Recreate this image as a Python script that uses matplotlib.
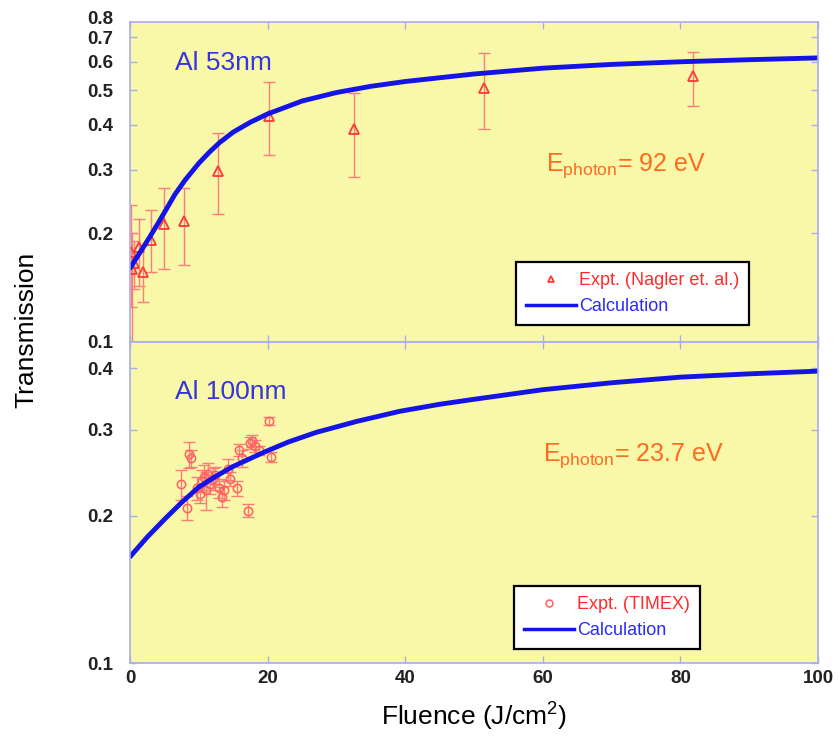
import matplotlib.pyplot as plt
from matplotlib.lines import Line2D
from matplotlib.ticker import FixedLocator, NullLocator

plt.rcParams['font.family'] = ['Liberation Sans', 'DejaVu Sans']
plt.rcParams['mathtext.fontset'] = 'custom'
plt.rcParams['mathtext.rm'] = 'Liberation Sans'

# Al 53nm, E = 92 eV
calc53_x = [0, 1.3, 2.7, 4, 5.2, 6.5, 8, 10, 11.5, 13, 15, 17.5, 20, 25, 30, 35, 40, 50, 60, 70, 80, 90, 100]
calc53_y = [0.160, 0.175, 0.193, 0.212, 0.232, 0.256, 0.281, 0.313, 0.3355, 0.357, 0.382, 0.407, 0.429,
            0.466, 0.492, 0.512, 0.528, 0.554, 0.575, 0.589, 0.599, 0.607, 0.614]
nagler_x = [0.1, 0.3, 0.6, 1.3, 1.9, 3.0, 4.9, 7.9, 12.8, 20.2, 32.6, 51.5, 81.8]
nagler_y = [0.178, 0.159, 0.165, 0.183, 0.156, 0.192, 0.212, 0.216, 0.298, 0.423, 0.389, 0.507, 0.547]
nagler_lo = [0.125, 0.095, 0.140, 0.143, 0.129, 0.156, 0.159, 0.163, 0.226, 0.329, 0.286, 0.389, 0.451]
nagler_hi = [0.239, 0.200, 0.190, 0.219, 0.186, 0.232, 0.268, 0.268, 0.379, 0.527, 0.490, 0.634, 0.638]

# Al 100nm, E = 23.7 eV
calc100_x = [0, 2.5, 5.2, 7.5, 10, 12.5, 14.9, 17.5, 19.8, 23, 27, 33, 39.2, 45, 50, 60, 70, 80, 90, 100]
calc100_y = [0.165, 0.181, 0.198, 0.213, 0.229, 0.241, 0.252, 0.262, 0.271, 0.283, 0.296, 0.312, 0.327,
             0.338, 0.346, 0.362, 0.374, 0.384, 0.390, 0.395]
timex_x = [7.4, 8.3, 8.6, 8.8, 9.8, 10.2, 10.5, 10.8, 11.0, 11.3, 11.7, 12.0, 12.4, 13.0,
           13.4, 13.7, 14.2, 14.5, 15.6, 15.9, 16.3, 17.2, 17.4, 17.8, 18.2, 18.8, 20.2, 20.5]
timex_y = [0.232, 0.208, 0.267, 0.262, 0.228, 0.222, 0.236, 0.240, 0.226, 0.244, 0.232, 0.238, 0.242, 0.228,
           0.219, 0.226, 0.249, 0.238, 0.228, 0.273, 0.262, 0.205, 0.282, 0.285, 0.278, 0.272, 0.312, 0.264]
timex_err = [0.016, 0.012, 0.016, 0.010, 0.012, 0.010, 0.012, 0.014, 0.020, 0.012, 0.010, 0.012, 0.010, 0.010,
             0.010, 0.010, 0.012, 0.008, 0.008, 0.008, 0.010, 0.006, 0.008, 0.008, 0.008, 0.006, 0.006, 0.006]

ticks53 = [0.1, 0.2, 0.3, 0.4, 0.5, 0.6, 0.7]
ticks100 = [0.1, 0.2, 0.3, 0.4]
xticks = [0, 20, 40, 60, 80, 100]

face = '#F8F8A8'
spine = '#A8ACF0'
blue = '#1414E6'
red = '#FF3838'
errc = '#FF7C7C'
orange = '#FF6A22'

fig = plt.figure(figsize=(8.4, 7.44), dpi=100)
ax1 = fig.add_axes([130/840, 1 - 341.7/744, 688/840, 320/744])
ax2 = fig.add_axes([130/840, 1 - 663.3/744, 688/840, 321.3/744])

for ax, ticks, ytop in [(ax1, ticks53, 0.774), (ax2, ticks100, 0.453)]:
    ax.set_facecolor(face)
    ax.set_yscale('log')
    ax.set_xlim(0, 100)
    ax.set_ylim(0.1, ytop)
    ax.yaxis.set_major_locator(FixedLocator(ticks))
    ax.yaxis.set_minor_locator(NullLocator())
    ax.set_yticklabels([f"{t:.1f}" for t in ticks])
    ax.xaxis.set_major_locator(FixedLocator(xticks))
    ax.tick_params(direction='in', length=5, width=1, color=spine, top=True, right=True,
                   labelsize=13.5, pad=12)
    for s in ax.spines.values():
        s.set_color(spine)
        s.set_linewidth(1.2)
    for lab in ax.get_yticklabels():
        lab.set_fontweight('bold')
        lab.set_color('#222222')

ax1.tick_params(labelbottom=False)
ax2.set_xticklabels([str(t) for t in xticks])
ax2.tick_params(axis='x', pad=5)
for lab in ax2.get_xticklabels():
    lab.set_fontweight('bold')
    lab.set_color('#222222')
# the 0.8 label sits just above the top panel
fig.text(113/840, 1 - 19/744, "0.8", ha='right', va='center', fontsize=13.5,
         fontweight='bold', color='#222222')

legkw = dict(loc='upper left', fontsize=13, frameon=True, fancybox=False, framealpha=1,
             facecolor='white', edgecolor='black', handlelength=2.8, handletextpad=0.15,
             borderpad=0.55, labelspacing=0.5, borderaxespad=0)

# top panel
yerr = [[y - lo for y, lo in zip(nagler_y, nagler_lo)], [hi - y for y, hi in zip(nagler_y, nagler_hi)]]
ax1.errorbar(nagler_x, nagler_y, yerr=yerr, fmt='none', ecolor=errc, elinewidth=1, capsize=4, capthick=1)
ax1.plot(nagler_x, nagler_y, '^', ms=7, mfc='none', mec=red, mew=1.3)
ax1.plot(calc53_x, calc53_y, color=blue, lw=3.5, solid_capstyle='round', solid_joinstyle='round')
ax1.text(0.065, 0.87, "Al 53nm", transform=ax1.transAxes, color='#3434E0', fontsize=19, va='center')
ax1.text(0.605, 0.55, r"E$_{\mathrm{photon}}$= 92 eV", transform=ax1.transAxes, color=orange,
         fontsize=18, va='center')
h1 = [Line2D([], [], ls='none', marker='^', ms=5, mfc='none', mec=red, mew=1.3),
      Line2D([], [], color=blue, lw=2.5)]
leg1 = ax1.legend(h1, ["Expt. (Nagler et. al.)", "Calculation"], bbox_to_anchor=(0.561, 0.249), **legkw)
leg1.get_frame().set_linewidth(1.6)
leg1.get_texts()[0].set_color('#FF2A2A')
leg1.get_texts()[1].set_color('#2A2AFF')

# bottom panel
ax2.errorbar(timex_x, timex_y, yerr=timex_err, fmt='none', ecolor=errc, elinewidth=1, capsize=4, capthick=1)
ax2.plot(timex_x, timex_y, 'o', ms=6, mfc='none', mec='#FF6060', mew=1.1)
ax2.plot(calc100_x, calc100_y, color=blue, lw=3.5, solid_capstyle='round', solid_joinstyle='round')
ax2.text(0.065, 0.845, "Al 100nm", transform=ax2.transAxes, color='#3434E0', fontsize=19, va='center')
ax2.text(0.600, 0.645, r"E$_{\mathrm{photon}}$= 23.7 eV", transform=ax2.transAxes, color=orange,
         fontsize=18, va='center')
h2 = [Line2D([], [], ls='none', marker='o', ms=5, mfc='none', mec='#FF6060', mew=1.1),
      Line2D([], [], color=blue, lw=2.5)]
leg2 = ax2.legend(h2, ["Expt. (TIMEX)", "Calculation"], bbox_to_anchor=(0.558, 0.2406), **legkw)
leg2.get_frame().set_linewidth(1.6)
leg2.get_texts()[0].set_color('#FF2A2A')
leg2.get_texts()[1].set_color('#2A2AFF')

fig.text(26/840, 1 - 330/744, "Transmission", rotation=90, ha='center', va='center', fontsize=19)
fig.text(474/840, 1 - 716/744, r"Fluence (J/cm$^{2}$)", ha='center', va='center', fontsize=19)

fig.savefig("out.png", dpi=100)
